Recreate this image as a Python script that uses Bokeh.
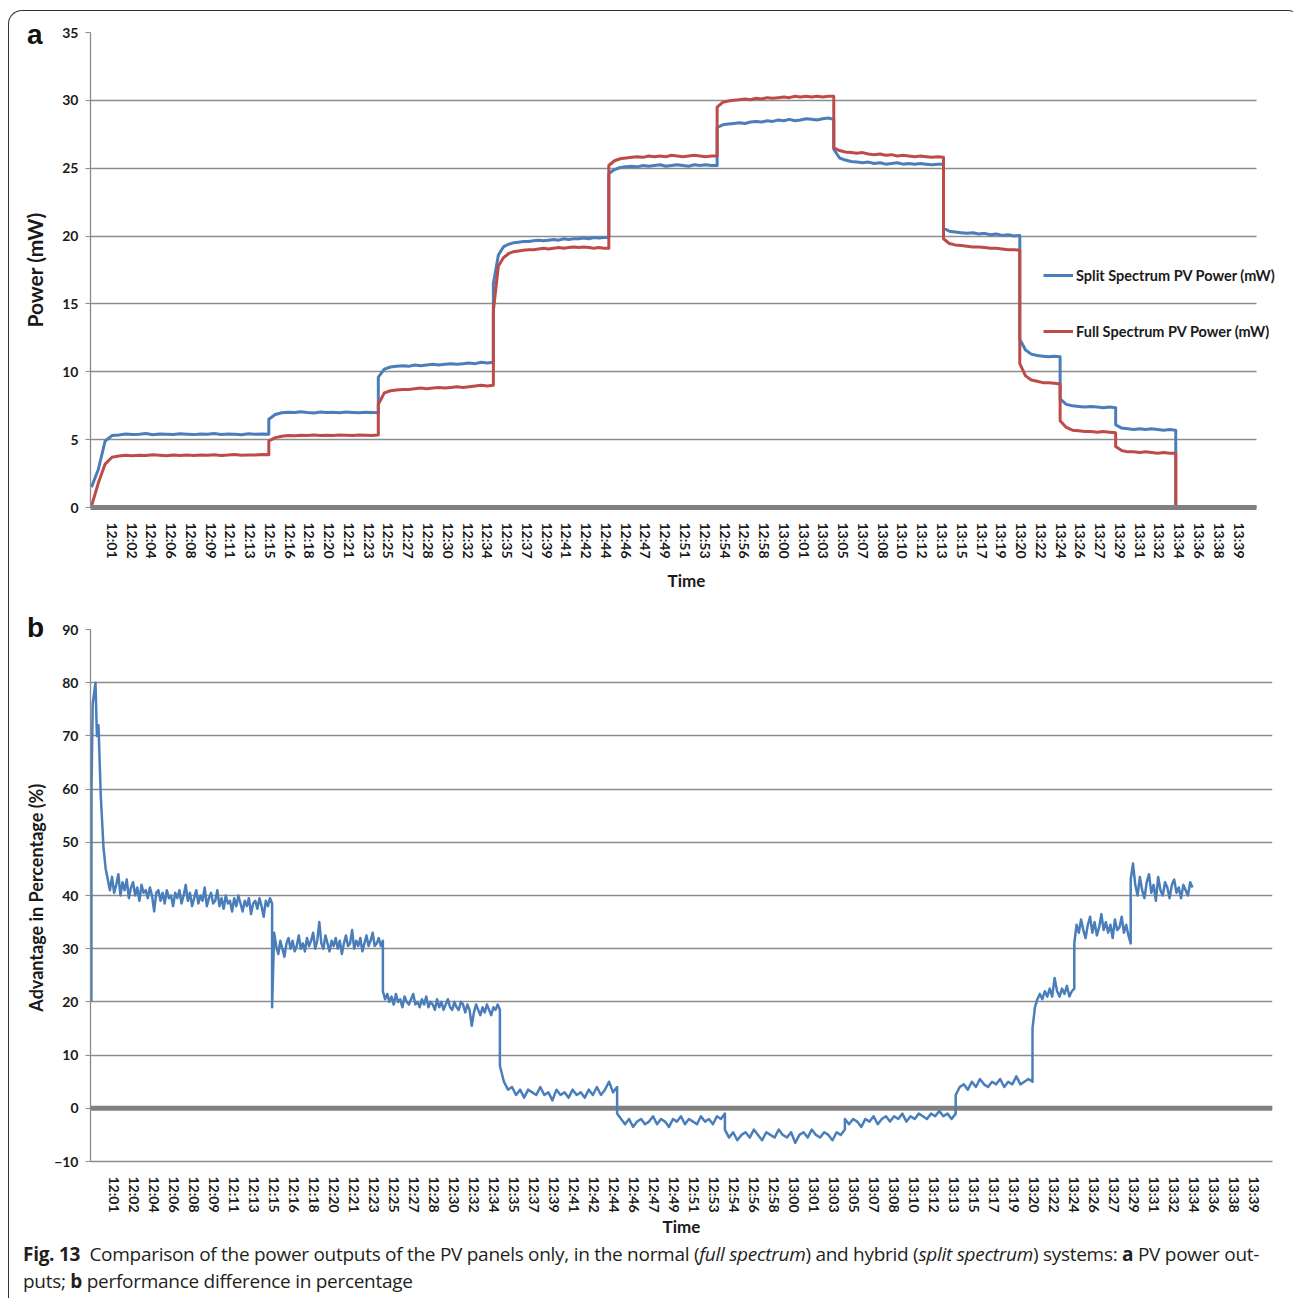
import numpy as np
from bokeh.plotting import figure
from bokeh.models import Legend, LegendItem, Span, FixedTicker, Div
from bokeh.layouts import column
from bokeh.embed import file_html
from bokeh.resources import INLINE

# ---------------- data ----------------
time_labels = ["12:01", "12:02", "12:04", "12:06", "12:08", "12:09", "12:11", "12:13", "12:15", "12:16",
               "12:18", "12:20", "12:21", "12:23", "12:25", "12:27", "12:28", "12:30", "12:32", "12:34",
               "12:35", "12:37", "12:39", "12:41", "12:42", "12:44", "12:46", "12:47", "12:49", "12:51",
               "12:53", "12:54", "12:56", "12:58", "13:00", "13:01", "13:03", "13:05", "13:07", "13:08",
               "13:10", "13:12", "13:13", "13:15", "13:17", "13:19", "13:20", "13:22", "13:24", "13:26",
               "13:27", "13:29", "13:31", "13:32", "13:34", "13:36", "13:38", "13:39"]

# panel a: plateau start positions (in time-label index units) and readings per plateau
plateau_starts_a = [-1.05, 7.92, 13.46, 19.28, 25.12, 30.6, 36.5, 42.05, 45.91, 47.95, 50.76, 53.8]
plateau_end_a = 57.88

split_power_mw = [
    [1.5, 2.8, 4.9, 5.3, 5.35, 5.42, 5.38, 5.4, 5.45, 5.36, 5.42, 5.4, 5.38, 5.44, 5.4, 5.37, 5.42, 5.4,
     5.45, 5.38, 5.41, 5.4, 5.36, 5.43, 5.4, 5.42, 5.4],
    [6.5, 6.85, 6.98, 7.02, 7.0, 7.05, 7.0, 6.97, 7.04, 7.0, 7.02, 6.98, 7.03, 7.0, 6.98, 7.02, 7.0, 6.98],
    [9.6, 10.2, 10.35, 10.4, 10.45, 10.4, 10.5, 10.45, 10.5, 10.55, 10.5, 10.55, 10.6, 10.55, 10.6, 10.65,
     10.6, 10.7, 10.65, 10.7],
    [16.5, 18.6, 19.2, 19.4, 19.5, 19.55, 19.6, 19.6, 19.65, 19.7, 19.65, 19.7, 19.75, 19.7, 19.8, 19.75,
     19.8, 19.8, 19.85, 19.8, 19.9, 19.85, 19.9, 19.9],
    [24.6, 24.9, 25.05, 25.1, 25.15, 25.1, 25.2, 25.15, 25.2, 25.25, 25.15, 25.2, 25.25, 25.2, 25.15, 25.25,
     25.2, 25.25, 25.2, 25.2],
    [28.0, 28.2, 28.25, 28.3, 28.35, 28.3, 28.4, 28.45, 28.4, 28.5, 28.45, 28.55, 28.5, 28.6, 28.5, 28.55,
     28.65, 28.6, 28.55, 28.65, 28.7, 28.6],
    [26.4, 25.75, 25.6, 25.5, 25.45, 25.4, 25.45, 25.35, 25.4, 25.3, 25.35, 25.4, 25.3, 25.35, 25.3, 25.35,
     25.3, 25.25, 25.3, 25.3],
    [20.6, 20.35, 20.3, 20.25, 20.2, 20.25, 20.15, 20.2, 20.1, 20.15, 20.05, 20.1, 20.0, 20.05],
    [12.4, 11.6, 11.3, 11.2, 11.15, 11.1, 11.15, 11.1],
    [8.0, 7.6, 7.5, 7.45, 7.4, 7.45, 7.4, 7.35, 7.4, 7.35],
    [6.1, 5.85, 5.8, 5.75, 5.8, 5.75, 5.8, 5.75, 5.7, 5.75, 5.7],
    [0.0, 0.0],
]

full_power_mw = [
    [0.1, 1.8, 3.2, 3.7, 3.8, 3.85, 3.82, 3.85, 3.83, 3.88, 3.85, 3.82, 3.86, 3.84, 3.87, 3.83, 3.86, 3.85,
     3.88, 3.84, 3.86, 3.9, 3.85, 3.87, 3.86, 3.9, 3.88],
    [4.9, 5.15, 5.25, 5.3, 5.28, 5.32, 5.3, 5.35, 5.3, 5.33, 5.3, 5.35, 5.32, 5.3, 5.35, 5.33, 5.3, 5.35],
    [7.6, 8.45, 8.6, 8.65, 8.7, 8.7, 8.75, 8.8, 8.75, 8.8, 8.85, 8.8, 8.85, 8.9, 8.85, 8.9, 8.95, 9.0,
     8.95, 9.0],
    [14.5, 17.8, 18.4, 18.7, 18.85, 18.9, 18.95, 19.0, 19.0, 19.05, 19.1, 19.05, 19.1, 19.15, 19.1, 19.15,
     19.2, 19.15, 19.2, 19.15, 19.1, 19.15, 19.1, 19.1],
    [25.2, 25.55, 25.7, 25.75, 25.8, 25.85, 25.8, 25.9, 25.85, 25.9, 25.85, 25.95, 25.9, 25.85, 25.9, 25.95,
     25.9, 25.85, 25.9, 25.9],
    [29.5, 29.85, 29.95, 30.0, 30.05, 30.1, 30.05, 30.15, 30.1, 30.2, 30.15, 30.2, 30.25, 30.2, 30.3, 30.25,
     30.3, 30.25, 30.3, 30.25, 30.3, 30.3],
    [26.5, 26.3, 26.2, 26.15, 26.1, 26.15, 26.05, 26.0, 26.05, 25.95, 26.0, 25.9, 25.95, 25.9, 25.85, 25.9,
     25.85, 25.8, 25.85, 25.8],
    [19.8, 19.45, 19.35, 19.3, 19.25, 19.2, 19.2, 19.15, 19.1, 19.1, 19.05, 19.0, 19.0, 18.95],
    [10.6, 9.7, 9.4, 9.3, 9.2, 9.2, 9.15, 9.1],
    [6.4, 5.9, 5.7, 5.65, 5.6, 5.6, 5.55, 5.6, 5.55, 5.5],
    [4.5, 4.2, 4.1, 4.1, 4.05, 4.1, 4.05, 4.0, 4.05, 4.0, 4.0],
    [0.0, 0.0],
]

# panel b: start-up spike, then plateaus
startup_t_b = [-1.155, -1.15, -1.09, -0.95, -0.88, -0.8, -0.69, -0.55]
startup_pct_b = [20.0, 60.0, 76.0, 80.0, 70.0, 72.0, 59.0, 49.0]
plateau_starts_b = [-0.44, 7.88, 13.42, 19.27, 25.13, 30.52, 36.52, 42.06, 45.9, 47.99, 50.81]
plateau_end_b = 53.9

advantage_pct = [
    [45.0, 43.0, 41.0, 43.5, 40.5, 42.0, 44.0, 40.0, 42.5, 41.0, 43.0, 39.5, 41.5, 42.5, 40.0, 41.5, 39.0,
     42.0, 40.5, 41.0, 39.5, 41.5, 40.0, 37.0, 40.5, 41.0, 39.0, 40.5, 38.5, 41.0, 39.5, 40.0, 38.0, 40.5,
     39.5, 41.0, 38.5, 40.0, 42.0, 39.0, 40.5, 38.0, 39.5, 41.0, 38.5, 40.0, 39.0, 41.5, 38.0, 39.5, 40.5,
     38.5, 39.0, 41.0, 38.0, 39.5, 37.5, 40.0, 38.5, 39.0, 37.0, 39.5, 38.0, 40.0, 38.5, 37.0, 39.0, 38.0,
     39.5, 36.5, 38.5, 39.0, 37.5, 39.5, 38.0, 36.0, 39.0, 38.0, 39.5, 38.5],
    [19.0, 33.0, 30.5, 29.0, 31.5, 30.0, 28.5, 31.0, 32.0, 30.0, 31.5, 29.5, 30.5, 32.5, 30.0, 31.0, 29.5,
     32.0, 30.5, 31.5, 33.0, 30.0, 31.5, 35.0, 31.0, 30.0, 32.5, 31.0, 29.5, 31.5, 30.5, 32.0, 30.0, 31.5,
     29.0, 31.0, 32.5, 30.5, 31.0, 33.5, 30.0, 31.5, 30.5, 32.0, 29.5, 31.0, 32.5, 30.5, 31.5, 33.0, 30.5,
     31.0, 32.0, 30.5, 31.5],
    [22.0, 20.5, 21.5, 20.0, 21.0, 19.5, 21.5, 20.0, 20.5, 19.0, 21.0, 20.0, 19.5, 20.5, 21.5, 19.5, 20.0,
     19.0, 20.5, 19.5, 21.0, 19.0, 20.0, 19.5, 18.5, 20.5, 19.0, 20.0, 18.5, 19.5, 20.5, 19.0, 18.5, 20.0,
     19.0, 18.5, 20.0, 19.5, 18.0, 19.5, 18.5, 15.5, 18.0, 19.5, 18.5, 17.5, 19.0, 18.0, 19.5, 18.5, 17.5,
     19.0, 18.5, 19.5, 18.5],
    [8.0, 5.0, 3.5, 4.0, 2.5, 3.5, 2.0, 3.5, 3.0, 2.5, 4.0, 2.5, 3.0, 1.5, 3.5, 2.5, 3.0, 2.0, 3.5, 2.5,
     3.0, 2.0, 3.5, 2.5, 4.0, 2.5, 3.5, 5.0, 3.0, 4.0],
    [-1.0, -2.0, -3.0, -2.0, -3.5, -2.5, -2.0, -3.0, -2.5, -1.5, -3.0, -2.0, -2.5, -3.5, -2.0, -2.5, -1.5,
     -3.0, -2.0, -2.5, -3.0, -1.5, -2.5, -2.0, -3.0, -1.5, -2.0, -1.0],
    [-4.0, -5.5, -4.5, -6.0, -5.0, -4.5, -5.5, -4.0, -5.0, -6.0, -4.5, -5.0, -5.5, -4.0, -5.0, -5.5, -4.5,
     -6.5, -5.0, -4.5, -5.5, -4.0, -5.0, -5.5, -4.5, -5.0, -6.0, -4.5, -5.0, -4.0],
    [-2.0, -3.0, -2.0, -2.5, -3.5, -2.0, -2.5, -1.5, -3.0, -2.0, -1.5, -2.5, -1.5, -2.0, -1.0, -2.5, -1.5,
     -2.0, -1.0, -1.5, -2.0, -1.0, -1.5, -0.5, -1.5, -1.0, -2.0, -1.0],
    [2.5, 4.0, 4.5, 3.5, 5.0, 4.0, 5.5, 4.5, 4.0, 5.0, 4.5, 5.5, 4.0, 5.0, 4.5, 6.0, 4.5, 5.0, 5.5, 5.0],
    [15.0, 19.0, 20.5, 21.5, 20.5, 22.0, 21.0, 22.5, 21.0, 24.5, 22.0, 21.0, 22.5, 21.5, 23.0, 21.0, 22.0,
     22.5],
    [31.0, 34.5, 33.0, 35.5, 33.5, 32.0, 34.5, 36.0, 33.0, 35.0, 32.5, 34.0, 36.5, 33.5, 35.0, 33.0, 34.5,
     32.0, 35.5, 33.5, 34.0, 36.0, 33.0, 34.5, 32.5, 31.0],
    [43.0, 46.0, 42.0, 40.0, 43.5, 41.0, 39.5, 42.5, 44.0, 40.5, 42.0, 39.0, 43.5, 41.0, 40.0, 42.5, 41.5,
     39.5, 42.0, 43.0, 40.5, 41.5, 39.5, 42.0, 41.0, 40.0, 42.5, 41.5],
]


def build(starts, end, segs):
    bounds = list(starts) + [end]
    xs, ys = [], []
    for k, vals in enumerate(segs):
        xs.extend(np.linspace(bounds[k], bounds[k + 1], len(vals)).tolist())
        ys.extend(vals)
    return xs, ys


xa, split_y = build(plateau_starts_a, plateau_end_a, split_power_mw)
_, full_y = build(plateau_starts_a, plateau_end_a, full_power_mw)
xb_p, adv_p = build(plateau_starts_b, plateau_end_b, advantage_pct)
xb = startup_t_b + xb_p
adv_y = startup_pct_b + adv_p

# ---------------- style ----------------
FONT = "Lato"
TXT = "#1a1a1a"
GRID = "#8c8c8c"
BLUE = "#4a7ebb"
RED = "#be4b48"
overrides = {i: lab for i, lab in enumerate(time_labels)}


def style(p, yticks):
    p.xgrid.visible = False
    p.ygrid.grid_line_color = GRID
    p.ygrid.grid_line_width = 1.3
    p.outline_line_color = None
    p.background_fill_color = "white"
    p.border_fill_color = None
    p.yaxis.ticker = FixedTicker(ticks=yticks, minor_ticks=[])
    p.yaxis.axis_line_color = GRID
    p.yaxis.axis_line_width = 1.3
    p.yaxis.major_tick_line_color = GRID
    p.yaxis.major_tick_out = 5
    p.yaxis.major_tick_in = 0
    p.yaxis.major_label_standoff = 7
    p.xaxis.ticker = FixedTicker(ticks=list(range(len(time_labels))), minor_ticks=[])
    p.xaxis.major_label_overrides = overrides
    p.xaxis.major_label_orientation = "vertical"
    p.xaxis.major_tick_line_color = None
    for ax in (p.xaxis[0], p.yaxis[0]):
        ax.major_label_text_font = FONT
        ax.major_label_text_font_style = "bold"
        ax.major_label_text_font_size = "14px"
        ax.major_label_text_color = TXT
        ax.axis_label_text_font = FONT
        ax.axis_label_text_font_style = "bold"
        ax.axis_label_text_color = TXT


# ---------------- panel a ----------------
A_START, A_END = -1.1, 57.88
pa = figure(frame_width=1192, frame_height=475, x_range=(A_START, 59.2), y_range=(0, 35),
            min_border_left=81, min_border_right=9, min_border_top=21, min_border_bottom=98,
            output_backend="svg", toolbar_location=None, tools="")
style(pa, list(range(0, 36, 5)))
pa.ygrid.cross_bounds = (A_START, A_END)
pa.xaxis.bounds = (A_START, A_END)
pa.xaxis.axis_line_color = "#808080"
pa.xaxis.axis_line_width = 5
pa.xaxis.major_label_standoff = 9
pa.xaxis.axis_label = "Time"
pa.xaxis.axis_label_text_font_size = "17px"
pa.xaxis.axis_label_standoff = 8
pa.yaxis.axis_label = "Power (mW)"
pa.yaxis.axis_label_text_font_size = "21px"
pa.yaxis.axis_label_standoff = 12

r_split = pa.line(xa, split_y, line_color=BLUE, line_width=3, line_join="round")
r_full = pa.line(xa, full_y, line_color=RED, line_width=3, line_join="round")

legend = Legend(items=[LegendItem(label="Split Spectrum PV Power (mW)", renderers=[r_split]),
                       LegendItem(label="Full Spectrum PV Power (mW)", renderers=[r_full])],
                location=(953, 166), padding=0, margin=0, spacing=36, glyph_width=30, glyph_height=20,
                label_height=20, label_standoff=3, background_fill_alpha=0, border_line_alpha=0,
                label_text_font=FONT, label_text_font_style="bold", label_text_font_size="14.5px",
                label_text_color=TXT)
pa.add_layout(legend)

# ---------------- panel b ----------------
pb = figure(frame_width=1182, frame_height=532, x_range=(-1.2, 57.9), y_range=(-10, 90),
            min_border_left=79, min_border_right=21, min_border_top=24, min_border_bottom=79,
            output_backend="svg", toolbar_location=None, tools="")
style(pb, list(range(-10, 91, 10)))
pb.xaxis.axis_line_color = GRID
pb.xaxis.axis_line_width = 1.3
pb.xaxis.major_label_standoff = 9
pb.xaxis.axis_label = "Time"
pb.xaxis.axis_label_text_font_size = "17px"
pb.xaxis.axis_label_standoff = 0
pb.yaxis.axis_label = "Advantage  in Percentage (%)"
pb.yaxis.axis_label_text_font_size = "18px"
pb.yaxis.axis_label_standoff = 4
pb.add_layout(Span(location=0, dimension="width", line_color="#808080", line_width=5, level="underlay"))
pb.line(xb, adv_y, line_color=BLUE, line_width=2.5, line_join="round")

# ---------------- caption and panel letters ----------------
caption = Div(
    text=('<b>Fig. 13</b>&nbsp; Comparison of the power outputs of the PV panels only, in the normal '
          '(<i>full spectrum</i>) and hybrid (<i>split spectrum</i>) systems: <b>a</b> PV power out-<br>'
          'puts; <b>b</b> performance difference in percentage'),
    width=1282, height=56,
    styles={"font-family": "Open Sans", "font-size": "19px", "line-height": "27px", "color": "#231f20",
            "padding-left": "9px", "white-space": "nowrap", "letter-spacing": "-0.28px",
            "position": "relative", "top": "-4px"})

letter_style = {"position": "absolute", "font-family": "Liberation Sans", "font-weight": "bold",
                "font-size": "28px", "line-height": "28px", "color": "#111111"}
label_a = Div(text="a", width=24, height=30, styles=dict(letter_style, left="13px", top="5px"))
label_b = Div(text="b", width=24, height=30, styles=dict(letter_style, left="13px", top="598px"))

layout = column(pa, pb, caption, label_a, label_b, margin=(10, 0, 0, 8),
                styles={"border": "1.5px solid #333333", "border-bottom": "none",
                        "border-radius": "14px 14px 0 0", "background": "white", "position": "relative"})

open("out.html", "w").write(file_html(layout, INLINE))
